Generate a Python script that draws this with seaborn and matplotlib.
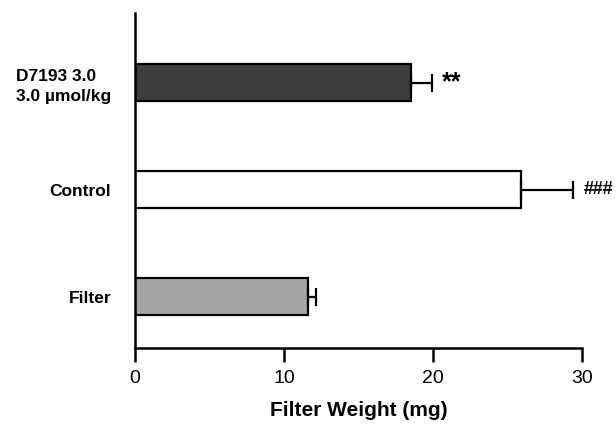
import matplotlib
matplotlib.use("Agg")
import matplotlib.pyplot as plt
import seaborn as sns
import pandas as pd

categories = ["D7193 3.0\n3.0 µmol/kg", "Control", "Filter"]
values = [18.5, 25.9, 11.6]
errors = [1.4, 3.5, 0.55]
marks = ["**", "###", ""]
colors = ["#3d3d3d", "#ffffff", "#a6a6a6"]
xticks = [0, 10, 20, 30]

sns.set_style("white")
plt.rcParams['font.family'] = ['Liberation Sans', 'DejaVu Sans']
plt.rcParams['text.color'] = 'black'
plt.rcParams['xtick.color'] = 'black'
plt.rcParams['ytick.color'] = 'black'
plt.rcParams['axes.labelcolor'] = 'black'

df = pd.DataFrame({"cat": categories, "val": values})

fig = plt.figure(figsize=(6.16, 4.33), dpi=100)
ax = fig.add_axes([0.219, 0.196, 0.726, 0.774])

sns.barplot(data=df, y="cat", x="val", hue="cat", palette=colors, orient="h",
            width=0.35, edgecolor="black", linewidth=1.6, legend=False, ax=ax,
            errorbar=None)

ypos = list(range(len(categories)))
ax.errorbar(values, ypos, xerr=[[0] * len(errors), errors], fmt="none",
            ecolor="black", elinewidth=1.6, capsize=6.5, capthick=1.6)

for y, v, e, m in zip(ypos, values, errors, marks):
    if m:
        fs = 18 if "*" in m else 13
        ax.text(v + e + 0.7, y, m, va="center", ha="left", fontsize=fs,
                fontweight="bold")

ax.set_xlim(0, 30)
ax.set_ylim(2.48, -0.65)
ax.set_xticks(xticks)
ax.set_xticklabels([str(t) for t in xticks], fontsize=14)
ax.tick_params(axis="x", direction="out", length=10, width=1.8, pad=6,
               bottom=True)
ax.tick_params(axis="y", length=0, pad=17)
for lab in ax.get_yticklabels():
    lab.set_fontweight("bold")
    lab.set_fontsize(12.5)
    lab.set_multialignment("left")
    lab.set_linespacing(1.45)
ax.set_ylabel("")
ax.set_xlabel("Filter Weight (mg)", fontsize=15, fontweight="bold", labelpad=10)

for s in ["top", "right"]:
    ax.spines[s].set_visible(False)
for s in ["left", "bottom"]:
    ax.spines[s].set_linewidth(1.8)
    ax.spines[s].set_color("black")

fig.savefig("out.png", dpi=100)
